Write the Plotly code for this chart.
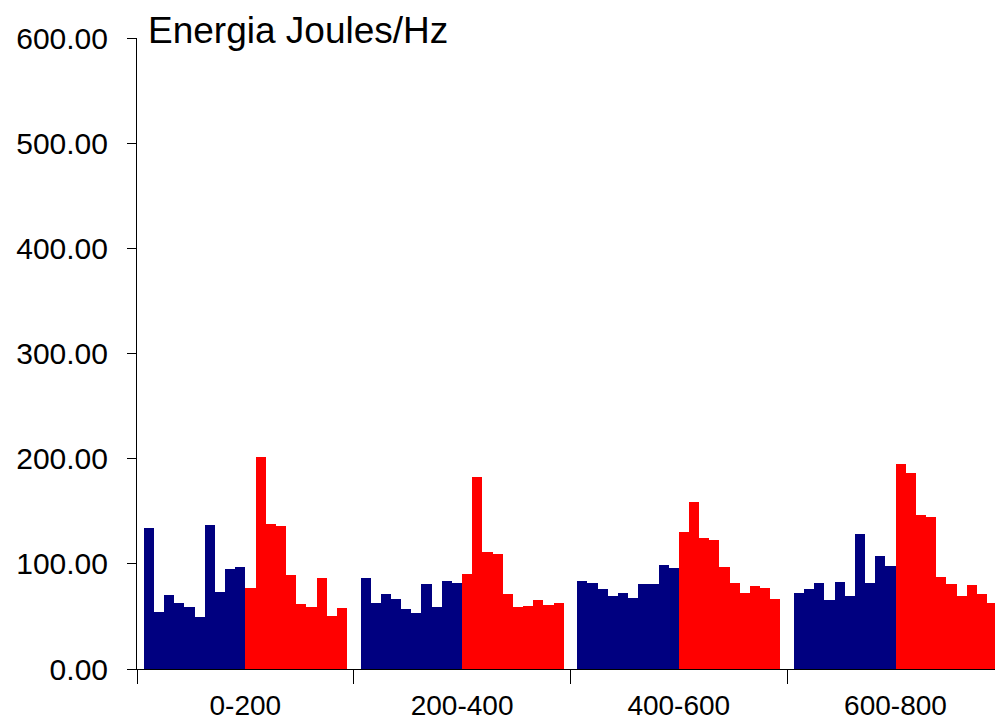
import plotly.graph_objects as go

# Data
groups = ["0-200", "200-400", "400-600", "600-800"]
blue_vals = [
    [133.8, 54.5, 70.3, 62.4, 58.6, 49.7, 136.7, 73.5, 95.4, 97.0],
    [86.2, 62.4, 71.3, 66.2, 56.7, 53.5, 80.5, 58.9, 83.3, 82.1],
    [83.3, 82.1, 76.4, 69.7, 72.6, 67.5, 80.5, 80.5, 99.2, 95.7],
    [72.6, 76.4, 81.4, 65.9, 82.4, 69.7, 128.1, 81.4, 107.1, 97.6],
]
red_vals = [
    [77.3, 201.4, 137.9, 135.7, 89.0, 61.4, 58.9, 86.2, 50.6, 57.6],
    [90.0, 182.4, 111.0, 109.0, 71.3, 58.9, 59.5, 65.2, 60.8, 62.4],
    [130.0, 158.6, 124.9, 123.0, 97.3, 82.1, 72.6, 78.6, 76.7, 66.2],
    [194.8, 186.8, 146.8, 144.9, 87.5, 80.5, 69.7, 79.5, 71.6, 62.7],
]
yticks = [0, 100, 200, 300, 400, 500, 600]

# x positions in "bar width" units
slot = 21.33      # one category slot
pad = 0.67        # gap before the first bar of a group
n = len(blue_vals[0])

bx, by, rx, ry = [], [], [], []
for g in range(len(groups)):
    base = g * slot + pad + 0.5
    for i in range(n):
        bx.append(base + i)
        by.append(blue_vals[g][i])
        rx.append(base + n + i)
        ry.append(red_vals[g][i])

fig = go.Figure()
fig.add_trace(go.Bar(x=bx, y=by, width=1, marker=dict(color="#000080", line=dict(width=0))))
fig.add_trace(go.Bar(x=rx, y=ry, width=1, marker=dict(color="#FF0000", line=dict(width=0))))

font = "Liberation Sans, Arial, sans-serif"
# plot runs to the right edge and cuts the last group like the original
fig.update_layout(
    width=995, height=723,
    margin=dict(l=137, r=0, t=38, b=54),
    plot_bgcolor="white", paper_bgcolor="white",
    showlegend=False, barmode="overlay", bargap=0,
    font=dict(family=font, size=30, color="black"),
)
fig.update_xaxes(
    range=[0, 858 / 10.16], automargin=False,
    tickvals=[g * slot + slot / 2 for g in range(len(groups))],
    ticktext=groups, ticks="", ticklabelstandoff=11, tickfont=dict(size=28),
    minor=dict(tick0=0, dtick=slot, ticks="outside", ticklen=14, tickcolor="black", showgrid=False),
    showline=True, linecolor="black", linewidth=1, showgrid=False, zeroline=False,
)
fig.update_yaxes(
    range=[0, 600], tickvals=yticks, ticktext=[f"{v:.2f}" for v in yticks], automargin=False,
    ticks="outside", ticklen=9, tickcolor="black", ticklabelstandoff=13,
    showline=True, linecolor="black", linewidth=1, showgrid=False, zeroline=False,
)
fig.add_annotation(text="Energia Joules/Hz", xref="paper", yref="paper", x=0, y=1,
                   xanchor="left", yanchor="middle", xshift=9, yshift=8, showarrow=False,
                   font=dict(size=37))

# drop the default page margin so the figure fills the window exactly
fig.write_html("out.html", config={"displayModeBar": False},
               post_script="document.body.style.margin='0';document.body.style.overflow='hidden';")
